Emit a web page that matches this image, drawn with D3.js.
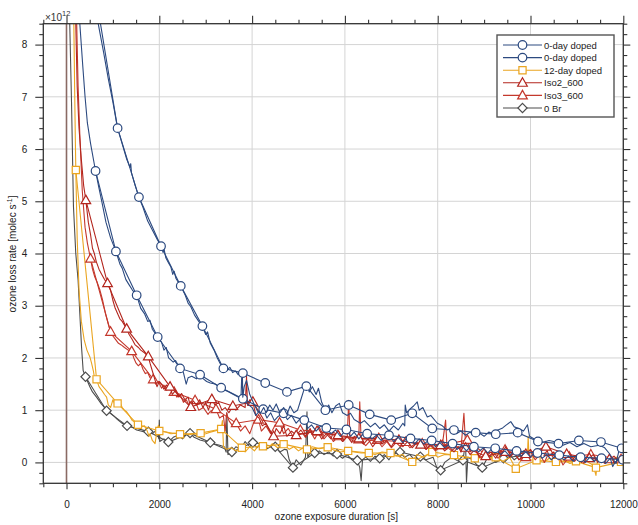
<!DOCTYPE html>
<html><head><meta charset="utf-8">
<script src="https://cdn.jsdelivr.net/npm/d3@7"></script>
<style>body{margin:0;background:#fff} text{font-family:"Liberation Sans",Arial,Helvetica,sans-serif}</style>
</head><body><svg id="c" width="638" height="525"></svg>
<script>
// ---------- data (time [s], ozone loss rate [1e12 molec/s]) ----------
const seriesNames = ["0-day doped","0-day doped","12-day doped","Iso2_600","Iso3_600","0 Br"];

const blue1Line = [[640,8.6],[683,8.4],[800,7.85],[900,7.35],[1000,6.9],[1100,6.4],[1200,6.1],[1300,5.8],[1370,5.65],[1385,5.72],[1400,5.55],[1480,5.3],[1560,5.08],[1650,4.88],[1750,4.62],[1850,4.45],[1950,4.28],[2040,4.14],[2080,4.02],[2095,4.12],[2140,3.92],[2200,3.82],[2250,3.74],[2290,3.6],[2320,3.66],[2360,3.52],[2460,3.38],[2560,3.2],[2620,3.05],[2680,2.98],[2760,2.82],[2850,2.7],[2930,2.6],[3000,2.45],[3040,2.5],[3100,2.28],[3180,2.15],[3250,2.0],[3320,1.88],[3380,1.8],[3450,1.76],[3520,1.82],[3580,1.72],[3640,1.75],[3700,1.68],[3760,1.72],[3790,1.7],[3800,1.25],[3830,1.45],[3880,1.57],[3950,1.3],[4050,1.1],[4120,0.98],[4180,0.94],[4250,1.05],[4300,0.95],[4380,1.1],[4450,1.0],[4520,1.12],[4600,0.95],[4680,1.05],[4750,0.92],[4820,1.08],[4900,0.95],[4980,1.0],[5050,1.2],[5120,1.4],[5180,1.52],[5230,1.35],[5300,1.45],[5380,1.3],[5430,1.42],[5500,1.15],[5580,1.0],[5650,1.1],[5720,0.95],[5800,1.08],[5880,1.13],[5950,0.95],[6050,0.9],[6120,0.94],[6200,0.82],[6335,0.75],[6420,0.8],[6550,0.68],[6650,0.75],[6750,0.65],[6850,0.72],[6950,0.6],[7050,0.7],[7150,0.62],[7250,0.75],[7290,0.7],[7300,1.1],[7330,0.95],[7400,1.02],[7480,1.08],[7559,1.16],[7600,1.0],[7680,1.05],[7776,0.87],[7850,0.9],[7992,0.75],[8100,0.7],[8200,0.62],[8300,0.66],[8400,0.55],[8500,0.6],[8600,0.52],[8700,0.58],[8800,0.5],[8900,0.56],[9000,0.5],[9100,0.58],[9200,0.55],[9300,0.62],[9400,0.66],[9467,0.71],[9575,0.78],[9650,0.68],[9750,0.65],[9850,0.6],[9935,0.72],[9980,0.5],[10116,0.43],[10250,0.38],[10400,0.42],[10548,0.39],[10700,0.33],[10850,0.38],[11000,0.3],[11150,0.36],[11300,0.3],[11483,0.33],[11600,0.28],[11699,0.17],[11843,-0.02],[11900,0.2],[11980,0.33]];
const blue1Marks = [[640,8.9],[1101,6.4],[1561,5.08],[2037,4.14],[2462,3.38],[2929,2.61],[3382,1.8],[3801,1.71],[4283,1.52],[4751,1.35],[5169,1.46],[5579,1.0],[6082,1.1],[6535,0.92],[6998,0.81],[7451,0.94],[7883,0.65],[8350,0.62],[8819,0.57],[9251,0.54],[9724,0.57],[10160,0.4],[10603,0.36],[11043,0.42],[11518,0.39],[11965,0.27]];

const blue2Line = [[260,9.0],[287,8.4],[350,7.6],[400,7.0],[450,6.5],[520,6.1],[626,5.58],[700,5.25],[760,5.0],[850,4.6],[950,4.3],[1065,4.04],[1150,3.8],[1200,3.72],[1280,3.5],[1350,3.4],[1420,3.3],[1512,3.2],[1600,2.95],[1680,2.85],[1750,2.7],[1800,2.72],[1850,2.55],[1965,2.4],[2050,2.3],[2100,2.15],[2150,2.2],[2200,2.0],[2300,1.92],[2350,1.95],[2447,1.8],[2520,1.72],[2580,1.5],[2620,1.62],[2700,1.65],[2800,1.6],[2879,1.68],[2950,1.6],[3020,1.55],[3100,1.52],[3200,1.5],[3333,1.43],[3420,1.38],[3500,1.35],[3600,1.3],[3700,1.25],[3760,1.22],[3780,1.75],[3800,1.22],[3900,1.12],[4000,1.05],[4080,0.9],[4150,0.98],[4240,1.02],[4320,0.85],[4400,0.95],[4480,0.8],[4560,0.88],[4678,0.94],[4760,0.82],[4850,0.9],[4950,0.75],[5050,0.85],[5125,0.81],[5200,0.65],[5280,0.72],[5380,0.6],[5480,0.7],[5600,0.66],[5700,0.55],[5800,0.62],[5900,0.5],[6033,0.63],[6120,0.5],[6200,0.58],[6300,0.45],[6400,0.55],[6480,0.55],[6580,0.45],[6680,0.52],[6780,0.42],[6880,0.5],[6950,0.52],[7050,0.4],[7150,0.48],[7250,0.38],[7330,0.46],[7415,0.46],[7500,0.35],[7600,0.45],[7700,0.35],[7800,0.42],[7870,0.42],[7950,0.3],[8050,0.38],[8150,0.28],[8250,0.35],[8320,0.36],[8420,0.25],[8520,0.32],[8620,0.22],[8700,0.3],[8780,0.3],[8880,0.2],[8980,0.28],[9080,0.18],[9160,0.26],[9240,0.27],[9350,0.15],[9450,0.22],[9550,0.12],[9620,0.2],[9700,0.22],[9800,0.12],[9900,0.2],[10000,0.1],[10080,0.18],[10150,0.18],[10250,0.08],[10350,0.15],[10450,0.05],[10540,0.14],[10620,0.14],[10720,0.05],[10820,0.12],[10920,0.02],[11000,0.1],[11080,0.1],[11180,0.0],[11280,0.1],[11380,0.02],[11450,0.1],[11530,0.08],[11620,-0.02],[11720,0.08],[11772,-0.08],[11820,0.0],[11900,0.06],[11990,0.05]];
const blue2Marks = [[626,5.58],[1065,4.04],[1512,3.2],[1965,2.4],[2447,1.8],[2879,1.68],[3333,1.43],[3801,1.22],[4240,1.02],[4678,0.94],[5125,0.81],[5600,0.66],[6033,0.63],[6480,0.55],[6950,0.52],[7415,0.46],[7870,0.42],[8320,0.36],[8780,0.3],[9240,0.27],[9700,0.22],[10150,0.18],[10620,0.14],[11080,0.1],[11530,0.08],[11990,0.05]];

const orangeLine = [[130,9.0],[158,8.4],[175,7.2],[190,6.2],[201,5.6],[230,4.3],[270,3.3],[320,2.7],[380,2.35],[440,2.15],[504,2.02],[540,1.9],[580,1.75],[611,1.57],[648,1.59],[700,1.45],[760,1.38],[820,1.3],[864,1.25],[900,1.1],[950,1.05],[1000,1.2],[1050,1.1],[1101,1.13],[1150,1.15],[1200,1.05],[1250,1.0],[1296,0.97],[1350,0.9],[1420,0.8],[1512,0.75],[1600,0.68],[1680,0.7],[1740,0.6],[1780,0.5],[1800,0.55],[1850,0.42],[1908,0.36],[1950,0.6],[1980,0.71],[2050,0.6],[2150,0.58],[2250,0.55],[2350,0.56],[2447,0.54],[2550,0.55],[2650,0.53],[2750,0.55],[2880,0.52],[3000,0.55],[3100,0.58],[3200,0.6],[3333,0.64],[3360,0.8],[3383,0.3],[3450,0.25],[3550,0.28],[3650,0.22],[3780,0.28],[3850,0.2],[3950,0.3],[4050,0.22],[4150,0.34],[4233,0.31],[4350,0.28],[4436,0.36],[4550,0.28],[4680,0.35],[4800,0.25],[4900,0.3],[5000,0.22],[5100,0.28],[5183,0.25],[5300,0.3],[5450,0.26],[5629,0.29],[5750,0.24],[5900,0.2],[6070,0.22],[6200,0.2],[6350,0.18],[6515,0.18],[6650,0.15],[6800,0.2],[6983,0.18],[7100,0.12],[7250,0.15],[7350,0.05],[7451,0.01],[7550,0.15],[7700,0.1],[7883,0.2],[8000,0.1],[8150,0.15],[8351,0.14],[8500,0.05],[8650,0.1],[8800,0.08],[8950,0.12],[9100,0.05],[9250,0.1],[9400,0.02],[9550,0.1],[9683,-0.12],[9800,0.05],[9930,0.05],[9950,0.5],[9970,0.05],[10130,0.04],[10300,0.0],[10400,0.08],[10548,0.01],[10700,0.05],[10850,-0.02],[10980,0.02],[11100,0.1],[11250,0.0],[11350,-0.05],[11411,-0.25],[11450,0.1],[11600,0.05],[11750,0.0],[11850,0.1],[11951,0.01]];
const orangeMarks = [[201,5.6],[648,1.59],[1101,1.13],[1540,0.72],[2000,0.6],[2447,0.54],[2890,0.56],[3333,0.64],[3780,0.28],[4233,0.31],[4680,0.35],[5183,0.25],[5629,0.29],[6070,0.22],[6515,0.18],[6983,0.18],[7451,0.01],[7883,0.2],[8351,0.14],[8800,0.08],[9250,0.1],[9683,-0.12],[10130,0.04],[10548,0.01],[10980,0.02],[11411,-0.1],[11951,0.01]];

const redALine = [[180,9.0],[200,8.4],[230,7.2],[270,6.4],[320,5.8],[370,5.3],[417,5.02],[470,4.6],[520,4.35],[560,4.1],[600,4.0],[640,3.85],[700,3.7],[760,3.6],[820,3.5],[885,3.43],[950,3.3],[1000,3.1],[1050,2.95],[1100,2.85],[1150,2.75],[1200,2.7],[1296,2.56],[1350,2.45],[1420,2.35],[1480,2.25],[1550,2.2],[1600,2.15],[1680,2.1],[1762,2.03],[1800,1.9],[1850,1.75],[1900,1.6],[1950,1.45],[2000,1.55],[2050,1.5],[2100,1.4],[2150,1.48],[2231,1.45],[2280,1.3],[2350,1.38],[2420,1.25],[2480,1.32],[2550,1.2],[2620,1.25],[2678,1.06],[2730,1.18],[2800,1.1],[2870,1.2],[2940,1.05],[3000,1.15],[3060,1.0],[3132,1.21],[3200,1.1],[3280,1.15],[3350,1.0],[3420,1.05],[3500,0.95],[3585,1.08],[3650,1.0],[3750,1.1],[3850,1.05],[3880,1.65],[3900,1.1],[3950,1.2],[4017,1.16],[4080,0.9],[4150,0.85],[4220,0.7],[4300,0.75],[4380,0.6],[4463,0.5],[4520,0.65],[4600,0.55],[4680,0.7],[4750,0.5],[4850,0.6],[4950,0.52],[5050,0.62],[5150,0.5],[5250,0.65],[5300,0.55],[5400,0.6],[5500,0.45],[5600,0.55],[5700,0.45],[5750,0.58],[5850,0.52],[5950,0.4],[6050,0.5],[6150,0.38],[6200,0.5],[6300,0.46],[6400,0.35],[6500,0.45],[6600,0.3],[6731,0.46],[6800,0.35],[6900,0.42],[7000,0.3],[7100,0.45],[7163,0.43],[7250,0.3],[7350,0.4],[7450,0.28],[7550,0.38],[7631,0.34],[7750,0.25],[7850,0.35],[7950,0.25],[8063,0.33],[8150,0.22],[8250,0.3],[8350,0.2],[8450,0.3],[8500,0.2],[8603,0.28],[8700,0.15],[8800,0.25],[8900,0.1],[9035,0.12],[9150,0.2],[9250,0.08],[9350,0.22],[9466,0.2],[9550,0.1],[9650,0.2],[9750,0.05],[9900,0.16],[10000,0.25],[10100,0.1],[10200,0.2],[10332,0.3],[10400,0.12],[10500,0.2],[10600,0.05],[10700,0.15],[10780,0.16],[10900,0.05],[11000,0.15],[11100,0.0],[11200,0.1],[11267,0.08],[11350,0.15],[11450,0.0],[11550,0.1],[11699,0.06],[11800,0.12],[11900,0.02],[12000,0.08]];
const redAMarks = [[417,5.02],[885,3.43],[1296,2.56],[1762,2.03],[2231,1.45],[2678,1.06],[3132,1.21],[3585,1.08],[4017,1.16],[4463,0.5],[4950,0.52],[5400,0.6],[5850,0.52],[6300,0.46],[6731,0.46],[7163,0.43],[7631,0.34],[8063,0.33],[8603,0.28],[9035,0.12],[9466,0.2],[9900,0.16],[10332,0.3],[10780,0.16],[11267,0.08],[11699,0.06]];

const redBLine = [[200,9.0],[220,8.4],[250,7.2],[290,6.2],[340,5.2],[400,4.5],[450,4.2],[518,3.9],[560,3.7],[610,3.55],[660,3.45],[720,3.3],[780,3.1],[840,2.85],[900,2.65],[950,2.5],[1000,2.42],[1060,2.35],[1120,2.28],[1180,2.25],[1250,2.2],[1330,2.15],[1404,2.13],[1450,2.0],[1500,1.9],[1550,1.85],[1600,1.9],[1650,1.78],[1700,1.7],[1750,1.72],[1800,1.62],[1870,1.59],[1920,1.5],[1980,1.55],[2050,1.42],[2100,1.48],[2150,1.38],[2220,1.42],[2318,1.35],[2380,1.25],[2450,1.3],[2520,1.15],[2580,1.2],[2650,1.08],[2771,1.19],[2850,1.0],[2950,1.05],[3050,0.92],[3100,0.98],[3220,1.02],[3300,0.85],[3380,0.9],[3420,0.6],[3450,0.95],[3500,0.8],[3580,0.7],[3657,0.75],[3750,0.6],[3850,0.7],[3950,0.55],[4050,0.8],[4139,0.82],[4200,0.6],[4300,0.7],[4400,0.55],[4500,0.72],[4592,0.76],[4680,0.55],[4780,0.65],[4880,0.5],[5040,0.62],[5150,0.48],[5250,0.6],[5350,0.45],[5435,0.59],[5550,0.45],[5650,0.55],[5750,0.4],[5867,0.5],[5950,0.4],[6050,0.5],[6082,1.19],[6110,0.45],[6200,0.4],[6299,0.44],[6320,1.16],[6350,0.4],[6450,0.32],[6550,0.42],[6695,0.43],[6800,0.3],[6900,0.4],[7000,0.28],[7100,0.38],[7200,0.3],[7307,0.39],[7400,0.28],[7500,0.35],[7667,0.36],[7750,0.25],[7850,0.32],[7950,0.22],[8099,0.33],[8170,0.81],[8200,0.3],[8300,0.22],[8400,0.3],[8500,0.25],[8565,0.94],[8600,0.35],[8639,0.43],[8700,0.2],[8800,0.28],[8900,0.12],[8998,0.17],[9100,0.1],[9200,0.2],[9300,0.08],[9452,0.24],[9550,0.1],[9650,0.18],[9750,0.05],[9900,0.1],[10000,0.2],[10100,0.05],[10200,0.15],[10300,0.0],[10400,0.2],[10500,0.08],[10600,0.15],[10700,-0.05],[10835,0.11],[10950,0.02],[11050,0.12],[11150,-0.02],[11300,0.15],[11400,0.05],[11500,0.1],[11600,-0.02],[11700,0.1],[11800,0.0],[11951,0.06],[12000,0.05]];
const redBMarks = [[518,3.9],[950,2.5],[1404,2.13],[1870,1.59],[2318,1.35],[2771,1.19],[3220,1.02],[3657,0.75],[4139,0.82],[4592,0.76],[5040,0.62],[5435,0.59],[5867,0.5],[6299,0.44],[6695,0.43],[7307,0.39],[7667,0.36],[8099,0.33],[8639,0.43],[8998,0.17],[9452,0.24],[9900,0.1],[10400,0.2],[10835,0.11],[11300,0.15],[11951,0.06]];

const grayLine = [[50,9.0],[70,8.4],[108,6.9],[150,4.9],[200,4.0],[250,3.49],[287,2.85],[324,2.21],[359,1.76],[410,1.64],[503,1.45],[560,1.35],[648,1.25],[750,1.12],[842,1.03],[900,0.98],[1007,0.9],[1100,0.82],[1200,0.75],[1305,0.7],[1400,0.68],[1512,0.62],[1600,0.6],[1700,0.58],[1763,0.59],[1850,0.55],[1944,0.62],[1990,0.45],[2000,0.81],[2010,0.4],[2100,0.45],[2195,0.39],[2300,0.48],[2400,0.52],[2500,0.45],[2600,0.55],[2663,0.56],[2750,0.48],[2879,0.43],[3000,0.4],[3100,0.38],[3200,0.35],[3300,0.33],[3400,0.3],[3440,0.2],[3456,0.95],[3480,0.15],[3527,0.17],[3564,0.2],[3650,0.3],[3750,0.25],[3850,0.4],[3950,0.3],[4017,0.38],[4100,0.28],[4200,0.35],[4300,0.25],[4400,0.3],[4499,0.3],[4600,0.2],[4700,0.25],[4752,0.24],[4800,0.05],[4880,-0.1],[4950,0.05],[5050,-0.05],[5150,0.1],[5183,0.97],[5200,0.1],[5260,0.2],[5348,0.18],[5450,0.22],[5550,0.15],[5650,0.2],[5750,0.12],[5831,0.16],[5950,0.08],[6050,0.15],[6150,0.05],[6268,0.04],[6320,-0.1],[6350,-0.35],[6380,0.05],[6450,0.1],[6550,0.02],[6650,0.12],[6750,0.08],[6850,0.15],[6950,0.05],[7050,0.18],[7187,0.2],[7280,0.1],[7400,0.15],[7500,0.05],[7626,0.11],[7750,0.05],[7900,0.1],[7980,-0.1],[8063,-0.15],[8150,0.0],[8300,0.1],[8450,0.02],[8545,0.04],[8600,0.4],[8620,-0.38],[8650,0.1],[8750,0.05],[8850,-0.05],[8960,-0.1],[9050,0.05],[9150,0.12],[9250,0.0],[9420,0.08],[9550,0.15],[9650,0.05],[9750,0.12],[9860,0.14],[9920,0.08]];
const grayMarks = [[410,1.64],[864,0.99],[1305,0.7],[1763,0.59],[2195,0.39],[2663,0.56],[3100,0.38],[3564,0.2],[4017,0.38],[4499,0.3],[4880,-0.1],[5348,0.18],[5831,0.16],[6268,0.04],[6750,0.08],[7187,0.2],[7626,0.11],[8063,-0.15],[8545,0.04],[8960,-0.1],[9420,0.08],[9860,0.14]];

const startLine = [[0,-0.4],[0,8.4]];

const xMajor = [0,2000,4000,6000,8000,10000,12000];
const xMinor = [-500,500,1000,1500,2500,3000,3500,4500,5000,5500,6500,7000,7500,8500,9000,9500,10500,11000,11500];
const yMajor = [0,1,2,3,4,5,6,7,8];
const yMinor = [-0.4,-0.2,0.2,0.4,0.6,0.8,1.2,1.4,1.6,1.8,2.2,2.4,2.6,2.8,3.2,3.4,3.6,3.8,4.2,4.4,4.6,4.8,5.2,5.4,5.6,5.8,6.2,6.4,6.6,6.8,7.2,7.4,7.6,7.8,8.2,8.4];

// ---------- drawing ----------
const svg = d3.select("#c");
const L = 43.3, R = 623.3, T = 23.7, B = 483.3;
const x = d3.scaleLinear().domain([-500, 12000]).range([L, R]);
const y = d3.scaleLinear().domain([-0.4, 8.4]).range([B, T]);

const BLUE = "#2c4a80", ORANGE = "#eaa521", RED1 = "#b3261e", RED2 = "#c4382c", GRAY = "#4d4d4d";

svg.append("rect").attr("width",638).attr("height",525).attr("fill","#fff");
svg.append("defs").append("clipPath").attr("id","clip")
  .append("rect").attr("x",L).attr("y",T).attr("width",R-L).attr("height",B-T);

// grid
const grid = svg.append("g").attr("stroke","#d4d4d4").attr("stroke-width",1);
grid.selectAll(".gx").data(xMajor).join("line")
  .attr("x1",d=>x(d)).attr("x2",d=>x(d)).attr("y1",T).attr("y2",B);
grid.selectAll(".gy").data(yMajor).join("line")
  .attr("x1",L).attr("x2",R).attr("y1",d=>y(d)).attr("y2",d=>y(d));

// axes
function styleAxis(g){ g.select(".domain").remove(); g.selectAll("line").attr("stroke","#333").attr("stroke-width",1.1); g.selectAll("text").attr("font-size",10).attr("fill","#222"); }
svg.append("g").attr("transform",`translate(0,${B})`).call(d3.axisBottom(x).tickValues(xMajor).tickSize(6).tickPadding(12).tickFormat(d3.format("d"))).call(styleAxis);
svg.append("g").attr("transform",`translate(0,${B})`).call(d3.axisBottom(x).tickValues(xMinor).tickSize(4).tickFormat("")).call(styleAxis);
svg.append("g").attr("transform",`translate(0,${T})`).call(d3.axisTop(x).tickValues(xMajor).tickSize(8).tickFormat("")).call(styleAxis);
svg.append("g").attr("transform",`translate(0,${T})`).call(d3.axisTop(x).tickValues(xMinor).tickSize(4).tickFormat("")).call(styleAxis);
svg.append("g").attr("transform",`translate(${L},0)`).call(d3.axisLeft(y).tickValues(yMajor).tickSize(8).tickPadding(8).tickFormat(d3.format("d"))).call(styleAxis);
svg.append("g").attr("transform",`translate(${L},0)`).call(d3.axisLeft(y).tickValues(yMinor).tickSize(4).tickFormat("")).call(styleAxis);
svg.append("g").attr("transform",`translate(${R},0)`).call(d3.axisRight(y).tickValues(yMajor).tickSize(7).tickFormat("")).call(styleAxis);
svg.append("g").attr("transform",`translate(${R},0)`).call(d3.axisRight(y).tickValues(yMinor).tickSize(4).tickFormat("")).call(styleAxis);

// data
const line = d3.line().x(d=>x(d[0])).y(d=>y(d[1]));
const plot = svg.append("g").attr("clip-path","url(#clip)");

function diamond(r){ return `M0,${-r}L${r},0L0,${r}L${-r},0Z`; }
function square(r){ return `M${-r},${-r}H${r}V${r}H${-r}Z`; }
function triangle(r){ return `M0,${-r*1.1}L${r*1.05},${r*0.75}L${-r*1.05},${r*0.75}Z`; }
function circle(r){ return d3.symbol(d3.symbolCircle, Math.PI*r*r)(); }
const shapes = { circle: ()=>circle(4.3), square: ()=>square(3.6), triangle: ()=>triangle(4.6), diamond: ()=>diamond(4.6) };

const series = [
  {name:seriesNames[5], dense:grayLine, marks:grayMarks, color:GRAY, shape:"diamond"},
  {name:seriesNames[2], dense:orangeLine, marks:orangeMarks, color:ORANGE, shape:"square"},
  {name:seriesNames[4], dense:redBLine, marks:redBMarks, color:RED2, shape:"triangle"},
  {name:seriesNames[3], dense:redALine, marks:redAMarks, color:RED1, shape:"triangle"},
  {name:seriesNames[1], dense:blue2Line, marks:blue2Marks, color:BLUE, shape:"circle"},
  {name:seriesNames[0], dense:blue1Line, marks:blue1Marks, color:BLUE, shape:"circle"}
];

plot.append("path").datum(startLine).attr("d",line).attr("fill","none").attr("stroke","#8a6a64").attr("stroke-width",1.6);

series.forEach(s=>{
  plot.append("path").datum(s.dense).attr("d",line).attr("fill","none").attr("stroke",s.color).attr("stroke-width",1.1).attr("stroke-linejoin","round");
  plot.append("path").datum(s.marks).attr("d",line).attr("fill","none").attr("stroke",s.color).attr("stroke-width",1.1);
  plot.selectAll(null).data(s.marks).join("path")
    .attr("transform",d=>`translate(${x(d[0])},${y(d[1])})`)
    .attr("d",shapes[s.shape]()).attr("fill","#fff").attr("stroke",s.color).attr("stroke-width",1.2);
});

// frame
svg.append("rect").attr("x",L).attr("y",T).attr("width",R-L).attr("height",B-T)
  .attr("fill","none").attr("stroke","#333").attr("stroke-width",1.3);

// exponent label
const ex = svg.append("text").attr("x",45).attr("y",21).attr("font-size",10).attr("fill","#333");
ex.append("tspan").text("\u00d710");
ex.append("tspan").attr("dy",-5).attr("font-size",7.5).text("12");

// axis titles
svg.append("text").attr("x",(L+R)/2+3).attr("y",520).attr("text-anchor","middle").attr("font-size",10).attr("fill","#222").text("ozone exposure duration [s]");
const yt = svg.append("text").attr("transform","translate(16,254) rotate(-90)").attr("text-anchor","middle").attr("font-size",10).attr("fill","#222");
yt.append("tspan").text("ozone loss rate [molec s");
yt.append("tspan").attr("dy",-4).attr("font-size",7).text("-1");
yt.append("tspan").attr("dy",4).text("]");

// legend
const legX = 497, legY = 35, legW = 117, legH = 82;
const leg = svg.append("g");
leg.append("rect").attr("x",legX).attr("y",legY).attr("width",legW).attr("height",legH)
  .attr("fill","#fff").attr("stroke","#555").attr("stroke-width",1.4);
const legendItems = [
  {name:seriesNames[0], color:BLUE, shape:"circle"},
  {name:seriesNames[1], color:BLUE, shape:"circle"},
  {name:seriesNames[2], color:ORANGE, shape:"square"},
  {name:seriesNames[3], color:RED1, shape:"triangle"},
  {name:seriesNames[4], color:RED2, shape:"triangle"},
  {name:seriesNames[5], color:GRAY, shape:"diamond"}
];
legendItems.forEach((it,i)=>{
  const cy = legY + 10 + i*12.6;
  leg.append("line").attr("x1",legX+6).attr("x2",legX+45).attr("y1",cy).attr("y2",cy).attr("stroke",it.color).attr("stroke-width",1.1);
  leg.append("path").attr("transform",`translate(${legX+25.5},${cy})`).attr("d",shapes[it.shape]()).attr("fill","#fff").attr("stroke",it.color).attr("stroke-width",1.2);
  leg.append("text").attr("x",legX+47).attr("y",cy+3.5).attr("font-size",9.5).attr("fill","#222").text(it.name);
});
</script></body></html>
